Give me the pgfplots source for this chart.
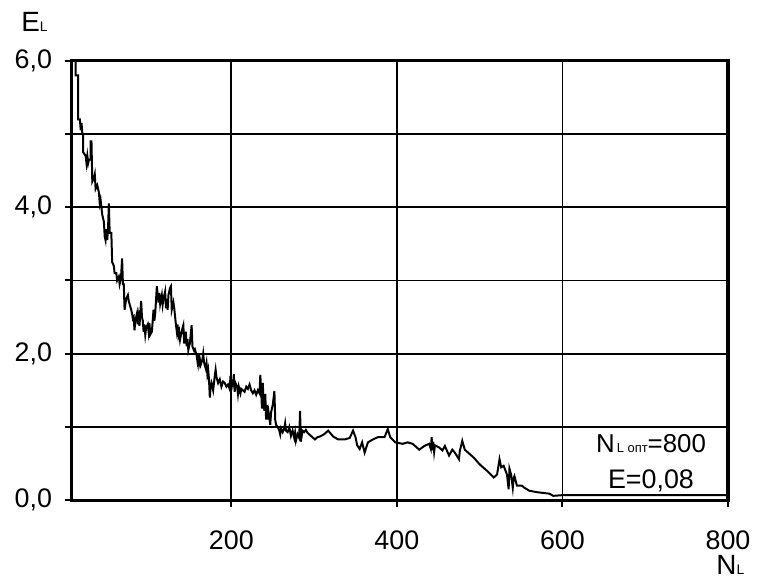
\documentclass[border=0pt]{standalone}
\usepackage{fontspec}
\setmainfont{Liberation Sans}
\usepackage{pgfplots}
\pgfplotsset{compat=1.18}
\begin{document}
\begin{tikzpicture}
\begin{axis}[
  name=ax,
  scale only axis, width=330pt, height=221pt,
  xmin=7, xmax=800, ymin=0, ymax=6,
  xtick={200,400,600,800}, xticklabels={200,400,600,800},
  ytick={0,1,2,3,4,5,6}, yticklabels={{0,0},{},{2,0},{},{4,0},{},{6,0}},
  grid=major, grid style={black, line width=0.9pt},
  axis line style={black, line width=1.6pt},
  tick style={black, line width=1pt}, major tick length=3.5pt,
  tick align=outside, tick pos=left,
  ticklabel style={font=\fontsize{13.5}{16}\selectfont},
  /pgf/number format/assume math mode=true,
  yticklabel style={xshift=-2.8pt},
  xticklabel style={yshift=-8.3pt},
  clip=false,
]
\addplot[black, line width=1pt, mark=none] coordinates {
(12,6.0)(12,5.8)(15,5.8)(15,5.2)(17,5.2)(18,5.05)(19,5.15)(20,5.0)(21,5.0)(21,4.75)
(24,4.7)(25,4.6)(26,4.7)(27,4.6)(28,4.65)(30,4.65)(30,4.9)(31,4.9)(32,4.35)(34,4.4)
(35,4.45)(36,4.25)(38,4.3)(40,4.2)(41,4.05)(42,4.1)(43,4.0)(44,3.9)(45,3.85)(46,3.8)
(47,3.6)(48,3.55)(49,3.7)(50,3.55)(51,3.7)(52,4.05)(53,3.65)(55,3.65)(56,3.25)(58,3.2)
(59,3.1)(61,3.1)(62,3.0)(64,3.05)(65,2.95)(66,3.0)(67,3.1)(68,3.3)(69,2.95)(70,2.95)
(71,2.6)(73,2.75)(75,2.8)(76,2.72)(79,2.6)(80,2.55)(81,2.48)(82,2.5)(83,2.32)(84,2.45)
(86,2.55)(87,2.4)(88,2.5)(89,2.38)(91,2.72)(92,2.5)(93,2.45)(94,2.3)(95,2.4)(96,2.26)
(97,2.35)(99,2.4)(100,2.3)(101,2.42)(102,2.26)(104,2.3)(105,2.45)(106,2.6)(107,2.45)(108,2.55)
(110,2.92)(111,2.8)(112,2.7)(113,2.83)(114,2.68)(116,2.8)(117,2.67)(118,2.75)(120,2.85)(121,2.62)
(122,2.75)(123,2.6)(124,2.8)(126,2.9)(127,2.92)(128,2.6)(130,2.7)(131,2.62)(133,2.4)(134,2.31)
(135,2.4)(136,2.25)(137,2.3)(138,2.19)(139,2.25)(141,2.35)(142,2.39)(143,2.14)(145,2.3)(146,2.1)
(147,2.2)(148,2.05)(150,2.15)(152,2.39)(153,2.1)(155,2.04)(156,2.06)(157,2.02)(158,1.98)(159,1.9)
(160,2.0)(161,1.86)(162,1.92)(163,1.85)(165,1.92)(166,2.0)(167,1.88)(169,1.8)(170,1.87)(171,1.72)
(172,1.78)(173,1.65)(174,1.40)(175,1.55)(176,1.6)(178,1.5)(180,1.7)(181,1.78)(182,1.68)(184,1.6)
(186,1.65)(188,1.55)(190,1.62)(192,1.6)(194,1.55)(196,1.58)(198,1.52)(199,1.7)(200,1.5)(201,1.65)
(202,1.55)(203,1.72)(204,1.48)(205,1.6)(207,1.55)(208,1.45)(209,1.55)(211,1.46)(212,1.52)(214,1.5)
(216,1.48)(218,1.55)(220,1.52)(222,1.58)(224,1.5)(226,1.46)(228,1.5)(230,1.44)(232,1.5)(234,1.46)
(235,1.71)(236,1.5)(237,1.25)(238,1.6)(239,1.3)(240,1.22)(241,1.45)(242,1.1)(243,1.3)(244,1.1)
(245,1.2)(247,1.03)(248,1.2)(250,1.3)(252,1.49)(253,1.1)(254,1.03)(256,1.0)(258,0.95)(259,0.9)
(260,0.98)(262,0.93)(264,0.98)(265,1.05)(266,0.95)(268,0.93)(270,1.0)(272,0.88)(274,0.95)(276,0.85)
(277,0.92)(278,0.81)(280,0.9)(282,0.85)(283,1.22)(284,0.8)(286,0.95)(288,0.93)(290,0.96)(292,0.92)
(296,0.88)(301,0.83)(304,0.86)(307,0.87)(312,0.9)(317,0.95)(323,0.87)(329,0.83)(337,0.83)(343,0.85)
(347,0.95)(350,0.86)(352,0.75)(355,0.70)(358,0.79)(361,0.65)(365,0.79)(371,0.83)(377,0.86)(385,0.86)
(389,0.97)(392,0.86)(398,0.79)(407,0.77)(413,0.79)(419,0.77)(427,0.69)(433,0.74)(439,0.77)(441,0.7)
(442,0.86)(443,0.68)(444,0.8)(445,0.66)(446,0.75)(451,0.72)(455,0.68)(458,0.74)(463,0.61)(467,0.69)
(470,0.65)(475,0.56)(476,0.67)(479,0.81)(482,0.69)(493,0.58)(500,0.49)(509,0.40)(517,0.31)(521,0.35)
(524,0.56)(526,0.45)(529,0.47)(533,0.35)(535,0.15)(536,0.43)(538,0.35)(540,0.17)(541,0.3)(542,0.33)
(545,0.20)(551,0.20)(554,0.17)(560,0.13)(569,0.11)(584,0.09)(589,0.06)(601,0.07)(800,0.07)
};
\node[anchor=base, font=\fontsize{13}{15}\selectfont, inner sep=0] at (axis cs:707,0.652)
  {N{\fontsize{6.5}{7}\selectfont\,L опт}=800};
\node[anchor=base, font=\fontsize{13.5}{15}\selectfont, inner sep=0] at (axis cs:707,0.163)
  {E=0,08};
\end{axis}
\node[anchor=base west, font=\fontsize{14}{16}\selectfont, inner sep=0]
  at ([xshift=-25.5pt,yshift=14.5pt]ax.north west) {E{\fontsize{7}{8}\selectfont L}};
\node[anchor=base west, font=\fontsize{14}{16}\selectfont, inner sep=0]
  at ([xshift=-6pt,yshift=-37.5pt]ax.south east) {N{\fontsize{7}{8}\selectfont L}};
\path[use as bounding box] ([shift={(-36pt,-39.5pt)}]ax.south west) rectangle ([shift={(12.5pt,30.5pt)}]ax.north east);
\end{tikzpicture}
\end{document}
